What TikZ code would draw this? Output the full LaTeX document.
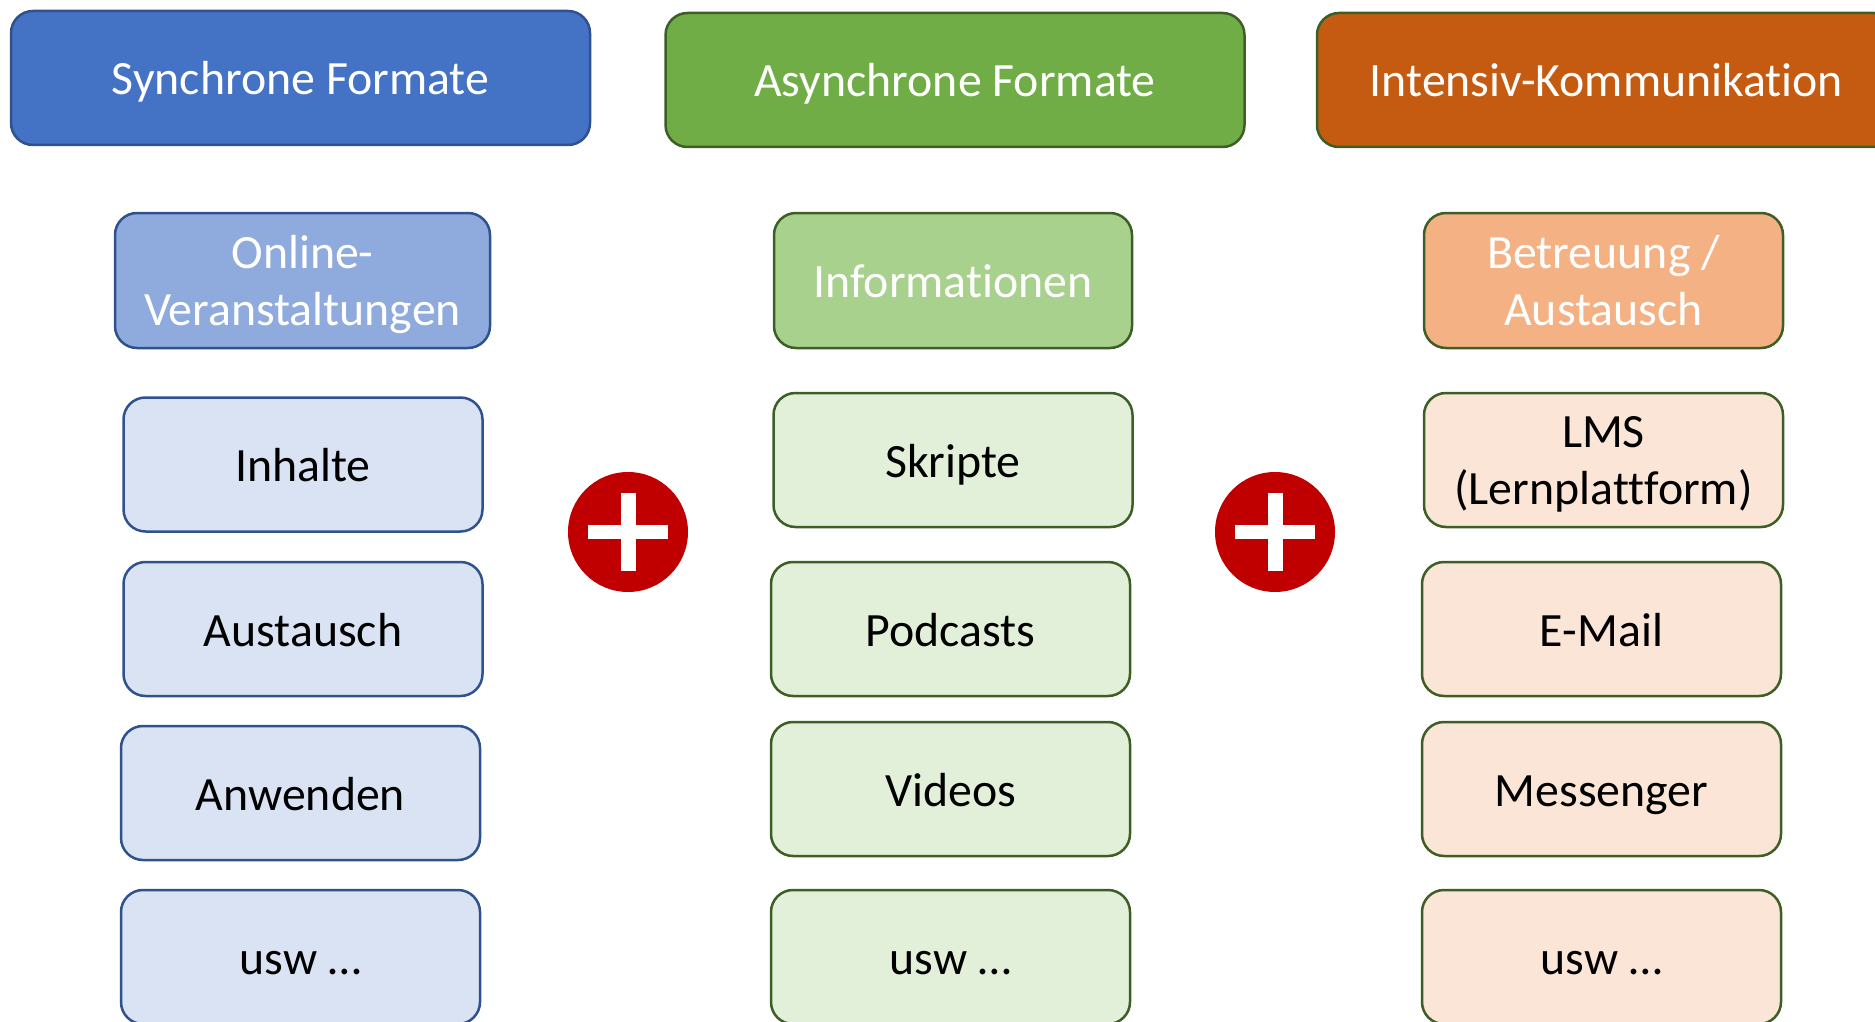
\documentclass[tikz,border=0pt]{standalone}
\usepackage{fontspec}
\setmainfont[Ligatures=NoCommon]{Carlito}
\definecolor{syncF}{HTML}{4472C4}
\definecolor{syncD}{HTML}{2F528F}
\definecolor{syncM}{HTML}{8FAADC}
\definecolor{syncL}{HTML}{DAE3F3}
\definecolor{asyF}{HTML}{70AD47}
\definecolor{asyM}{HTML}{A9D18E}
\definecolor{asyL}{HTML}{E2F0D9}
\definecolor{grnD}{HTML}{3D5F26}
\definecolor{intF}{HTML}{C55A11}
\definecolor{intM}{HTML}{F4B183}
\definecolor{intL}{HTML}{FBE5D6}
\definecolor{plusR}{HTML}{C00000}
\begin{document}
\begin{tikzpicture}[x=1pt,y=-1pt,
  box/.style={rectangle, rounded corners=22pt, line width=2.5pt, inner sep=0pt, align=center, font=\fontsize{47.8}{57}\selectfont},
  oneline/.style={text height=34pt, text depth=0pt},
  head/.style={box, oneline, minimum width=579pt, minimum height=134pt, text=white},
  sub/.style={box, text depth=0pt, minimum width=359pt, minimum height=135pt, text=white},
  item/.style={box, oneline, minimum width=359pt, minimum height=134pt, text=black},
  itemtwo/.style={box, text depth=0pt, minimum width=359pt, minimum height=134pt, text=black},
  syncc/.style={fill=syncF, draw=syncD},
  syncs/.style={fill=syncM, draw=syncD},
  synci/.style={fill=syncL, draw=syncD},
  asyc/.style={fill=asyF, draw=grnD},
  asys/.style={fill=asyM, draw=grnD},
  asyi/.style={fill=asyL, draw=grnD},
  intc/.style={fill=intF, draw=grnD},
  ints/.style={fill=intM, draw=grnD},
  inti/.style={fill=intL, draw=grnD},
  plussign/.style={circle, fill=plusR, minimum size=120pt, inner sep=0pt,
    path picture={
      \fill[white] ([xshift=-40pt,yshift=-7pt]path picture bounding box.center) rectangle ([xshift=40pt,yshift=7pt]path picture bounding box.center);
      \fill[white] ([xshift=-7.5pt,yshift=-39pt]path picture bounding box.center) rectangle ([xshift=7.5pt,yshift=39pt]path picture bounding box.center);
    }}
]
\useasboundingbox (0,0) rectangle (1875,1022);
\clip (0,0) rectangle (1875,1022);

% headers
\node[head, syncc] (hsync) at (300.5,78) {Synchrone Formate};
\node[head, asyc] (hasync) at (955,80) {Asynchrone Formate};
\node[head, intc] (hint) at (1606.5,80) {Intensiv-Kommunikation};

% sub headers
\node[sub, syncs, minimum width=375pt] (ssync) at (302.5,280.5) {Online-\\Veranstaltungen};
\node[sub, asys, oneline, minimum width=358pt] (sasync) at (953,280.5) {Informationen};
\node[sub, ints] (sint) at (1603.5,280.5) {Betreuung /\\Austausch};

% left column
\node[item, synci] (l1) at (303,464.5) {Inhalte};
\node[item, synci] (l2) at (303,629) {Austausch};
\node[item, synci] (l3) at (300.5,793) {Anwenden};
\node[item, synci] (l4) at (300.5,957) {usw …};

% middle column
\node[item, asyi] (m1) at (953,460) {Skripte};
\node[item, asyi] (m2) at (950.5,629) {Podcasts};
\node[item, asyi] (m3) at (950.5,789) {Videos};
\node[item, asyi] (m4) at (950.5,957) {usw …};

% right column
\node[itemtwo, inti] (r1) at (1603.5,460) {LMS\\(Lernplattform)};
\node[item, inti] (r2) at (1601.5,629) {E-Mail};
\node[item, inti] (r3) at (1601.5,789) {Messenger};
\node[item, inti] (r4) at (1601.5,957) {usw …};

% plus signs
\node[plussign] (p1) at (628,532) {};
\node[plussign] (p2) at (1275,532) {};
\end{tikzpicture}
\end{document}
